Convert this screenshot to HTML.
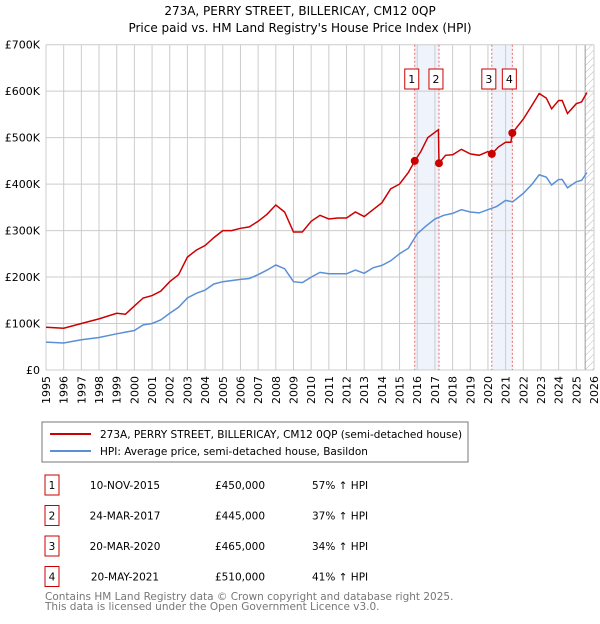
<!DOCTYPE html>
<html><head><meta charset="utf-8">
<style>
body{margin:0;background:#fff;font-family:"DejaVu Sans","Liberation Sans",sans-serif;}
svg text{font-family:"DejaVu Sans","Liberation Sans",sans-serif;}
</style></head>
<body>
<svg id="c" width="600" height="620" xmlns="http://www.w3.org/2000/svg">
<defs><pattern id="hatch" width="5" height="5" patternUnits="userSpaceOnUse" patternTransform="rotate(45)"><line x1="0" y1="0" x2="0" y2="5" stroke="#bbb" stroke-width="1"/></pattern></defs>
<text x="300" y="15" text-anchor="middle" font-size="12">273A, PERRY STREET, BILLERICAY, CM12 0QP</text>
<text x="300" y="32" text-anchor="middle" font-size="12">Price paid vs. HM Land Registry's House Price Index (HPI)</text>
<g id="plot"></g>
<rect x="42" y="422" width="426" height="40" fill="#fff" stroke="#777"/>
<line x1="50" y1="434" x2="91" y2="434" stroke="#cc0000" stroke-width="2"/>
<text x="100" y="438" font-size="10.5">273A, PERRY STREET, BILLERICAY, CM12 0QP (semi-detached house)</text>
<line x1="50" y1="451" x2="91" y2="451" stroke="#5b8fd6" stroke-width="2"/>
<text x="100" y="455" font-size="10.5">HPI: Average price, semi-detached house, Basildon</text>
<g id="table" font-size="10.5"></g>
<text x="45" y="600" font-size="10.5" fill="#777">Contains HM Land Registry data © Crown copyright and database right 2025.</text>
<text x="45" y="610" font-size="10.5" fill="#777">This data is licensed under the Open Government Licence v3.0.</text>
</svg>
<script>
const redYears=[1995,1996,1997,1998,1999,1999.5,2000,2000.5,2001,2001.5,2002,2002.5,2003,2003.5,2004,2004.5,2005,2005.5,2006,2006.5,2007,2007.5,2008,2008.5,2009,2009.5,2010,2010.5,2011,2011.5,2012,2012.5,2013,2013.5,2014,2014.5,2015,2015.5,2015.86,2016.2,2016.6,2017.2,2017.23,2017.6,2018,2018.5,2019,2019.5,2020,2020.22,2020.6,2021,2021.3,2021.38,2022,2022.5,2022.9,2023.3,2023.6,2024,2024.2,2024.5,2025,2025.3,2025.6];
const redValues=[92,90,100,110,122,120,138,155,160,170,190,205,243,258,268,285,300,300,305,308,320,335,355,340,297,297,320,333,325,327,327,340,330,345,360,390,400,425,450,470,500,517,445,462,463,475,465,462,470,465,480,490,490,510,540,570,595,585,562,580,580,552,573,577,597];
const hpiYears=[1995,1996,1997,1998,1999,2000,2000.5,2001,2001.5,2002,2002.5,2003,2003.5,2004,2004.5,2005,2006,2006.5,2007,2007.5,2008,2008.5,2009,2009.5,2010,2010.5,2011,2012,2012.5,2013,2013.5,2014,2014.5,2015,2015.5,2016,2016.5,2017,2017.5,2018,2018.5,2019,2019.5,2020,2020.5,2021,2021.4,2022,2022.5,2022.9,2023.3,2023.6,2024,2024.2,2024.5,2025,2025.3,2025.6];
const hpiValues=[60,58,65,70,78,85,97,100,108,122,135,155,165,172,185,190,195,197,205,215,226,218,190,188,200,210,207,207,215,208,220,225,235,250,262,293,310,325,333,337,345,340,338,345,352,365,362,380,400,420,415,398,410,410,392,405,408,425];
const saleLabels=["1","2","3","4"];
const saleYears=[2015.86,2017.23,2020.22,2021.38];
const saleValues=[450,445,465,510];
const saleDates=["10-NOV-2015","24-MAR-2017","20-MAR-2020","20-MAY-2021"];
const salePrices=["£450,000","£445,000","£465,000","£510,000"];
const saleHpi=["57% ↑ HPI","37% ↑ HPI","34% ↑ HPI","41% ↑ HPI"];
const yTicks=[0,100,200,300,400,500,600,700];
const yTickLabels=["£0","£100K","£200K","£300K","£400K","£500K","£600K","£700K"];
const xTicks=[];for(let y=1995;y<=2026;y++)xTicks.push(y);

const NS="http://www.w3.org/2000/svg";
const L=46,R=594,T=44.7,B=370;
const X=y=>L+(y-1995)*(R-L)/31;
const Y=v=>B-v*(B-T)/700;
const plot=document.getElementById('plot');
function mk(tag,attrs,parent){const e=document.createElementNS(NS,tag);for(const k in attrs)e.setAttribute(k,attrs[k]);(parent||plot).appendChild(e);return e;}

for(let i=0;i<4;i+=2){
  const b=mk('rect',{x:X(saleYears[i]),y:T,width:X(saleYears[i+1])-X(saleYears[i]),height:B-T,fill:'#eef3fc'});
  
  
}
const h=mk('rect',{x:X(2025.5),y:T,width:R-X(2025.5),height:B-T,fill:'url(#hatch)'});


mk('line',{x1:X(2025.5),y1:T,x2:X(2025.5),y2:B,stroke:'#999','stroke-width':1});
xTicks.forEach(t=>{
  const g=mk('line',{x1:X(t),y1:T,x2:X(t),y2:B,stroke:'#ccc','stroke-width':1});
  
  
  const tx=mk('text',{x:0,y:0,'font-size':11,'text-anchor':'end',transform:`translate(${X(t)+4},${B+6}) rotate(-90)`});
  tx.textContent=t;
  
  
});
yTicks.forEach((t,i)=>{
  const g=mk('line',{x1:L,y1:Y(t),x2:R,y2:Y(t),stroke:'#ccc','stroke-width':1});
  
  
  const tx=mk('text',{x:L-6,y:Y(t)+4,'font-size':11,'text-anchor':'end'});
  tx.textContent=yTickLabels[i];
  
  
});
saleYears.forEach(s=>{
  const v=mk('line',{x1:X(s),y1:T,x2:X(s),y2:B,stroke:'#e66','stroke-width':1,'stroke-dasharray':'2,2'});
  
  
});
function path(xs,vs,col,name){
  const d=xs.map((x,i)=>(i?'L':'M')+X(x).toFixed(1)+','+Y(vs[i]).toFixed(1)).join('');
  const p=mk('path',{d:d,fill:'none',stroke:col,'stroke-width':1.5});
  
  
}
path(hpiYears,hpiValues,'#5b8fd6','hpi-line');
path(redYears,redValues,'#cc0000','property-price-line');
saleYears.forEach((s,i)=>{
  const c=mk('circle',{cx:X(s),cy:Y(saleValues[i]),r:4,fill:'#cc0000'});
  
  
  const lx=X(s)-10;
  const r=mk('rect',{x:lx,y:69,width:14,height:20,fill:'#fff',stroke:'#cc0000'});
  
  
  const t=mk('text',{x:lx+7,y:83,'font-size':11,'text-anchor':'middle'});
  t.textContent=saleLabels[i];
  
  
});
const tb=document.getElementById('table');
saleLabels.forEach((l,i)=>{
  const y=484+i*30.5;
  const r=mk('rect',{x:45,y:y-9,width:14,height:20,fill:'#fff',stroke:'#cc0000'},tb);
  
  
  const cols=[[52,l,'middle'],[125,saleDates[i],'middle'],[240,salePrices[i],'middle'],[312,saleHpi[i],'start']];
  cols.forEach((c,j)=>{
    const t=mk('text',{x:c[0],y:y+5,'text-anchor':c[2]},tb);
    t.textContent=c[1];
    
    
  });
});
</script>
</body></html>
